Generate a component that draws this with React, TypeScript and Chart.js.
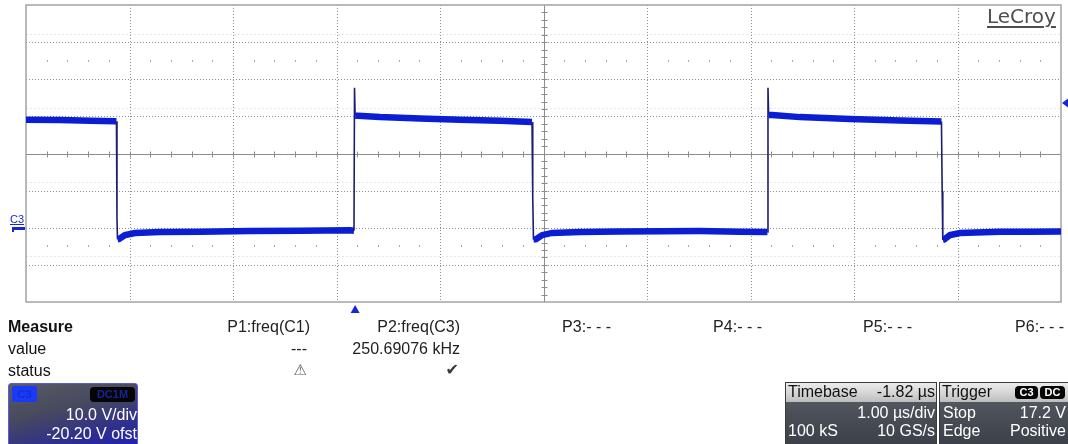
import React, { useEffect, useRef } from "react";
import { Chart, registerables } from "chart.js";

Chart.register(...registerables);

const W = 1068;
const H = 444;

// ---- Scope settings ----
const timePerDivUs = 1.0;
const xDivisions = 10;
const voltsPerDiv = 10.0;
const offsetV = -20.2;
const yDivisions = 8;
const triggerDelayUs = -1.82;
const minorPerDiv = 5;

// ---- C3 trace samples: time (µs from left edge of the graticule) and voltage (V) ----
const traceTimeUs = [
  0, 0.33, 0.62, 0.874,
  0.879, 0.884,
  0.899, 0.957, 1.053, 1.295, 1.681, 2.164, 2.647, 3.13, 3.169,
  3.174, 3.18,
  3.208, 3.42, 3.807, 4.193, 4.58, 4.889,
  4.896, 4.903,
  4.928, 4.986, 5.082, 5.353, 5.739, 6.126, 6.512, 6.899, 7.164,
  7.169, 7.175,
  7.208, 7.478, 7.961, 8.444, 8.845,
  8.852, 8.858,
  8.87, 8.928, 9.024, 9.411, 9.7, 10,
];
const traceVolts = [
  29.3, 29.2, 29.0, 28.9,
  2.8, -2.9,
  -2.8, -1.75, -1.2, -0.95, -0.9, -0.7, -0.6, -0.5, -0.6,
  37.9, 30.4,
  30.4, 30.0, 29.6, 29.3, 29.0, 28.7,
  8.5, -3.0,
  -2.9, -1.8, -1.2, -0.95, -0.8, -0.75, -0.7, -0.85, -0.95,
  37.9, 30.6,
  30.6, 30.0, 29.5, 29.1, 28.8,
  10.0, -3.1,
  -3.0, -1.75, -1.2, -0.9, -0.85, -0.8,
];

// ---- graticule / marker positions derived from the settings ----
const xMin = 0;
const xMax = xDivisions * timePerDivUs;
const centerTimeUs = xMax / 2;
const centerVolts = -offsetV;
const yMin = centerVolts - (yDivisions / 2) * voltsPerDiv;
const yMax = centerVolts + (yDivisions / 2) * voltsPerDiv;
const gridTimesUs = [1, 2, 3, 4, 6, 7, 8, 9];
const gridDivsFromTop = [1, 2, 3, 5, 6, 7];
const dotRowDivsFromTop = [1.5, 6.5];
const faintRowDivsFromTop = [0.77, 2.77, 4.77, 6.77];
const triggerTimeUs = centerTimeUs + triggerDelayUs;
const rightMarkerVolts = 33.8;

// ---- measurement panel texts ----
const measureRowLabels = ["Measure", "value", "status"];
const paramNames = ["P1:freq(C1)", "P2:freq(C3)", "P3:- - -", "P4:- - -", "P5:- - -", "P6:- - -"];
const paramValues = ["---", "250.69076 kHz", "", "", "", ""];
const paramStatus = ["\u26A0", "\u2714", "", "", "", ""];

const TRACE_BLUE = "#0c1ed4";
const EDGE_NAVY = "#1c1f70";
const MARK_BLUE = "#1428d8";
const FONT = "'Liberation Sans', Arial, sans-serif";

const divToVolts = (d: number) => yMax - d * voltsPerDiv;

const graticule = {
  id: "graticule",
  beforeDatasetsDraw(chart: any) {
    const { ctx, chartArea: a } = chart;
    const xs = chart.scales.x;
    const ys = chart.scales.y;
    const px = (t: number) => Math.round(xs.getPixelForValue(t)) + 0.5;
    const py = (v: number) => Math.round(ys.getPixelForValue(v)) + 0.5;
    const line = (x1: number, y1: number, x2: number, y2: number) => {
      ctx.beginPath();
      ctx.moveTo(x1, y1);
      ctx.lineTo(x2, y2);
      ctx.stroke();
    };
    ctx.save();
    ctx.lineWidth = 1;
    // faint intermediate rows
    ctx.strokeStyle = "#e6e6e6";
    ctx.setLineDash([2, 2]);
    for (const d of faintRowDivsFromTop) {
      const y = py(divToVolts(d));
      line(a.left, y, a.right, y);
    }
    // dotted major grid
    ctx.strokeStyle = "#8e8e8e";
    ctx.setLineDash([1, 2]);
    for (const t of gridTimesUs) {
      const x = px(t);
      line(x, a.top, x, a.bottom);
    }
    for (const d of gridDivsFromTop) {
      const y = py(divToVolts(d));
      line(a.left, y, a.right, y);
    }
    ctx.setLineDash([]);
    // rows of minor dots
    ctx.fillStyle = "#ababab";
    for (const d of dotRowDivsFromTop) {
      const y = Math.round(ys.getPixelForValue(divToVolts(d)));
      for (let i = 1; i < xDivisions * minorPerDiv; i++) {
        if (i % minorPerDiv === 0) continue;
        const x = Math.round(xs.getPixelForValue((i / minorPerDiv) * timePerDivUs));
        ctx.fillRect(x, y - 1, 1, 2);
      }
    }
    // center axes with minor ticks
    ctx.strokeStyle = "#8c8c8c";
    const cx = px(centerTimeUs);
    const cy = py(centerVolts);
    line(a.left, cy, a.right, cy);
    line(cx, a.top, cx, a.bottom);
    for (let i = 1; i < xDivisions * minorPerDiv; i++) {
      const x = px((i / minorPerDiv) * timePerDivUs);
      line(x, cy - 3, x, cy + 3);
    }
    for (let i = 1; i < yDivisions * minorPerDiv; i++) {
      const y = py(yMin + (i / minorPerDiv) * voltsPerDiv);
      line(cx - 3, y, cx + 3, y);
    }
    // outer border
    ctx.strokeStyle = "#a3a3a3";
    ctx.lineWidth = 1.5;
    ctx.strokeRect(a.left, a.top, a.right - a.left, a.bottom - a.top);
    ctx.restore();
  },
};

const markers = {
  id: "markers",
  afterDraw(chart: any) {
    const { ctx, chartArea: a } = chart;
    const xs = chart.scales.x;
    const ys = chart.scales.y;
    ctx.save();
    ctx.fillStyle = MARK_BLUE;
    // trigger position marker
    const tx = xs.getPixelForValue(triggerTimeUs);
    ctx.beginPath();
    ctx.moveTo(tx, a.bottom + 3);
    ctx.lineTo(tx + 4.5, a.bottom + 11);
    ctx.lineTo(tx - 4.5, a.bottom + 11);
    ctx.closePath();
    ctx.fill();
    // C3 ground marker
    const gy = ys.getPixelForValue(0);
    ctx.fillRect(12, gy - 1.5, 13, 3);
    ctx.fillRect(12, gy - 1.5, 2, 5);
    // right-side level marker
    const ry = ys.getPixelForValue(rightMarkerVolts);
    ctx.beginPath();
    ctx.moveTo(a.right + 1, ry);
    ctx.lineTo(W, ry - 4.5);
    ctx.lineTo(W, ry + 4.5);
    ctx.closePath();
    ctx.fill();
    ctx.restore();
  },
};

type TxtProps = {
  x: number;
  b: number;
  s?: number;
  a?: "left" | "right";
  w?: number;
  c?: string;
  f?: string;
  style?: React.CSSProperties;
  children?: React.ReactNode;
};

function Txt({ x, b, s = 16, a = "left", w = 400, c = "#1e1e1e", f = FONT, style, children }: TxtProps) {
  const top = b - 0.8465 * s;
  const st: React.CSSProperties = {
    position: "absolute",
    top,
    fontSize: s,
    lineHeight: s + "px",
    fontFamily: f,
    fontWeight: w,
    color: c,
    whiteSpace: "nowrap",
  };
  if (a === "left") st.left = x;
  else st.right = W - x;
  return <div style={{ ...st, ...style }}>{children}</div>;
}

function Badge({ x, y, w, h, bg, color, text, size = 11, radius = 4 }: any) {
  return (
    <div
      style={{
        position: "absolute",
        left: x,
        top: y,
        width: w,
        height: h,
        background: bg,
        borderRadius: radius,
        color,
        fontFamily: FONT,
        fontWeight: 700,
        fontSize: size,
        lineHeight: h + "px",
        textAlign: "center",
      }}
    >
      {text}
    </div>
  );
}

const paramRight = [310, 460, 611, 762, 912, 1064];
const rowBase = [333, 355, 377];

export default function App() {
  const ref = useRef<HTMLCanvasElement>(null);

  useEffect(() => {
    if (!ref.current) return;
    const points = traceTimeUs.map((t, i) => ({ x: t, y: traceVolts[i] }));
    const steep = (c: any) =>
      Math.abs((c.p1.parsed.y - c.p0.parsed.y) / Math.max(1e-6, c.p1.parsed.x - c.p0.parsed.x)) > 300;
    const chart = new Chart(ref.current, {
      type: "line",
      data: {
        datasets: [
          {
            label: "C3",
            data: points,
            pointRadius: 0,
            borderWidth: 6,
            borderColor: TRACE_BLUE,
            borderCapStyle: "butt",
            tension: 0,
            fill: false,
            segment: {
              borderWidth: (c: any) => (steep(c) ? 1.6 : 6.5),
              borderColor: (c: any) => (steep(c) ? EDGE_NAVY : TRACE_BLUE),
            },
          } as any,
        ],
      },
      options: {
        responsive: false,
        animation: false,
        devicePixelRatio: 1,
        events: [],
        layout: { padding: { left: 26, top: 5, right: 7, bottom: 142 } },
        scales: {
          x: { type: "linear", min: xMin, max: xMax, display: false },
          y: { type: "linear", min: yMin, max: yMax, display: false },
        },
        plugins: { legend: { display: false }, tooltip: { enabled: false } },
      },
      plugins: [graticule, markers],
    });
    return () => chart.destroy();
  }, []);

  return (
    <div
      style={{
        position: "fixed",
        left: 0,
        top: 0,
        width: W,
        height: H,
        background: "#ffffff",
        overflow: "hidden",
      }}
    >
      <canvas ref={ref} width={W} height={H} style={{ position: "absolute", left: 0, top: 0, width: W, height: H }} />

      {/* LeCroy logo */}
      <Txt
        x={987}
        b={23}
        s={20}
        c="#4e4e4e"
        f="'DejaVu Sans', Verdana, sans-serif"
        style={{ textDecoration: "underline", textDecorationThickness: "2px", textUnderlineOffset: "3px" }}
      >
        LeCroy
      </Txt>

      {/* channel label */}
      <Txt x={10} b={223} s={11} c={MARK_BLUE} style={{ textDecoration: "underline" }}>
        C3
      </Txt>

      {/* measurement table */}
      {measureRowLabels.map((l, i) => (
        <Txt key={l} x={8} b={rowBase[i]} w={i === 0 ? 700 : 400} c="#111">
          {l}
        </Txt>
      ))}
      {paramNames.map((p, i) => (
        <Txt key={p + i} x={paramRight[i]} b={rowBase[0]} a="right" c="#222">
          {p}
        </Txt>
      ))}
      {paramValues.map((v, i) =>
        v ? (
          <Txt key={"v" + i} x={paramRight[i] - (i === 0 ? 3 : 0)} b={rowBase[1]} a="right" c="#222">
            {v}
          </Txt>
        ) : null
      )}
      {paramStatus.map((v, i) =>
        v ? (
          <Txt
            key={"s" + i}
            x={paramRight[i] - (i === 0 ? 3 : 1)}
            b={rowBase[2] - 1}
            s={i === 0 ? 15 : 16}
            a="right"
            c={i === 0 ? "#5e5e5e" : "#3a3a3a"}
            f="'DejaVu Sans', sans-serif"
          >
            {v}
          </Txt>
        ) : null
      )}

      {/* channel descriptor box */}
      <div
        style={{
          position: "absolute",
          left: 8,
          top: 383,
          width: 128,
          height: 62,
          border: "1px solid #5a5ae6",
          borderRadius: 3,
          background: "linear-gradient(165deg, #5a5c66 0%, #47495e 40%, #2e2f8e 75%, #2020b4 100%)",
        }}
      />
      <Badge x={12} y={386} w={25} h={16} bg="#1a3af8" color="#1430c8" text="C3" size={11} radius={2} />
      <Badge x={90} y={387} w={45} h={15} bg="#050505" color="#16249a" text="DC1M" size={11} radius={4} />
      <Txt x={137} b={421} a="right" c="#ffffff">
        10.0 V/div
      </Txt>
      <Txt x={137} b={440} a="right" c="#ffffff">
        -20.20 V ofst
      </Txt>

      {/* timebase box */}
      <div
        style={{
          position: "absolute",
          left: 785,
          top: 382,
          width: 150,
          height: 62,
          border: "1px solid #3a3a3a",
          background: "linear-gradient(180deg, #62666f 0%, #4c5059 45%, #3c4049 100%)",
        }}
      />
      <div
        style={{
          position: "absolute",
          left: 786,
          top: 383,
          width: 150,
          height: 19,
          background: "linear-gradient(180deg, #ececec 0%, #d2d2d2 60%, #bdbdbd 100%)",
        }}
      />
      <Txt x={788} b={398} c="#111">Timebase</Txt>
      <Txt x={935} b={398} a="right" c="#111">-1.82 µs</Txt>
      <Txt x={935} b={419} a="right" c="#ffffff">1.00 µs/div</Txt>
      <Txt x={788} b={437} c="#ffffff">100 kS</Txt>
      <Txt x={935} b={437} a="right" c="#ffffff">10 GS/s</Txt>

      {/* trigger box */}
      <div
        style={{
          position: "absolute",
          left: 939,
          top: 382,
          width: 130,
          height: 62,
          border: "1px solid #3a3a3a",
          background: "linear-gradient(180deg, #62666f 0%, #4c5059 45%, #3c4049 100%)",
        }}
      />
      <div
        style={{
          position: "absolute",
          left: 940,
          top: 383,
          width: 130,
          height: 19,
          background: "linear-gradient(180deg, #ececec 0%, #d2d2d2 60%, #bdbdbd 100%)",
        }}
      />
      <Txt x={942} b={398} c="#111">Trigger</Txt>
      <Badge x={1015} y={386} w={23} h={13} bg="#050505" color="#ffffff" text="C3" size={11} radius={4} />
      <Badge x={1040} y={386} w={25} h={13} bg="#050505" color="#ffffff" text="DC" size={11} radius={4} />
      <Txt x={943} b={419} c="#ffffff">Stop</Txt>
      <Txt x={1066} b={419} a="right" c="#ffffff">17.2 V</Txt>
      <Txt x={943} b={437} c="#ffffff">Edge</Txt>
      <Txt x={1066} b={437} a="right" c="#ffffff">Positive</Txt>
    </div>
  );
}
